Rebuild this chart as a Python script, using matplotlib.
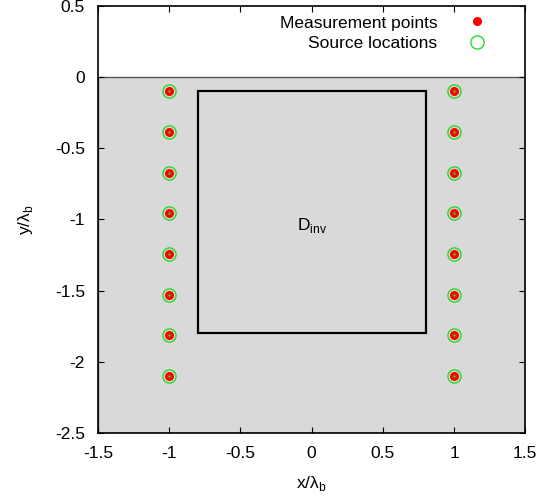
import matplotlib
matplotlib.use('Agg')
import matplotlib.pyplot as plt
from matplotlib.patches import Rectangle

plt.rcParams['font.family'] = ['Liberation Sans', 'DejaVu Sans']
plt.rcParams['font.size'] = 12.5
plt.rcParams['mathtext.fontset'] = 'custom'
plt.rcParams['mathtext.rm'] = 'Liberation Sans'

# точки измерения и источники (x = -1 и x = 1)
point_x = [-1, 1]
point_y = [-0.1, -0.386, -0.671, -0.957, -1.243, -1.529, -1.814, -2.1]

# область инверсии
box_x0, box_x1 = -0.8, 0.8
box_y0, box_y1 = -1.8, -0.1

xticks = [-1.5, -1, -0.5, 0, 0.5, 1, 1.5]
yticks = [-2.5, -2, -1.5, -1, -0.5, 0, 0.5]

fig = plt.figure(figsize=(5.42, 4.98), dpi=100)
ax = fig.add_axes([0.181, 0.1305, 0.788, 0.8575])

ax.axhspan(-2.5, 0, facecolor='#d9d9d9', edgecolor='#555555', lw=1, zorder=0)

ax.add_patch(Rectangle((box_x0, box_y0), box_x1 - box_x0, box_y1 - box_y0,
                       fill=False, edgecolor='black', lw=1.6, zorder=2))
ax.text(0, -1.04, r'D$_{\mathrm{inv}}$', ha='center', va='center', fontsize=12.5)

xs = [x for x in point_x for _ in point_y]
ys = [y for _ in point_x for y in point_y]

ax.plot(xs, ys, 'o', color='red', markersize=5.5, lw=0, zorder=4,
        label='Measurement points')
ax.plot(xs, ys, 'o', markerfacecolor='none', markeredgecolor='#22dd22',
        markersize=9.5, markeredgewidth=1, lw=0, zorder=3,
        label='Source locations')
ax.plot(xs, ys, '.', color='#22dd22', markersize=1.5, zorder=5)

ax.set_xlim(-1.5, 1.5)
ax.set_ylim(-2.5, 0.5)
ax.set_xticks(xticks)
ax.set_xticklabels(['-1.5', '-1', '-0.5', '0', '0.5', '1', '1.5'])
ax.set_yticks(yticks)
ax.set_yticklabels(['-2.5', '-2', '-1.5', '-1', '-0.5', '0', '0.5'])
ax.tick_params(direction='in', top=True, right=True, length=4.5)
ax.tick_params(axis='x', pad=9)
ax.tick_params(axis='y', pad=9.5)
for s in ax.spines.values():
    s.set_linewidth(1.2)

ax.set_xlabel(r'x/λ$_{\mathrm{b}}$')
ax.set_ylabel(r'y/λ$_{\mathrm{b}}$')
ax.xaxis.set_label_coords(0.5, -0.095)
ax.yaxis.set_label_coords(-0.148, 0.5)

ax.legend(loc='upper right', bbox_to_anchor=(0.927, 0.978), markerfirst=False,
          frameon=False, handlelength=2, handletextpad=1.25, labelspacing=0.3,
          borderpad=0, borderaxespad=0)

plt.savefig('out.png', dpi=100)
